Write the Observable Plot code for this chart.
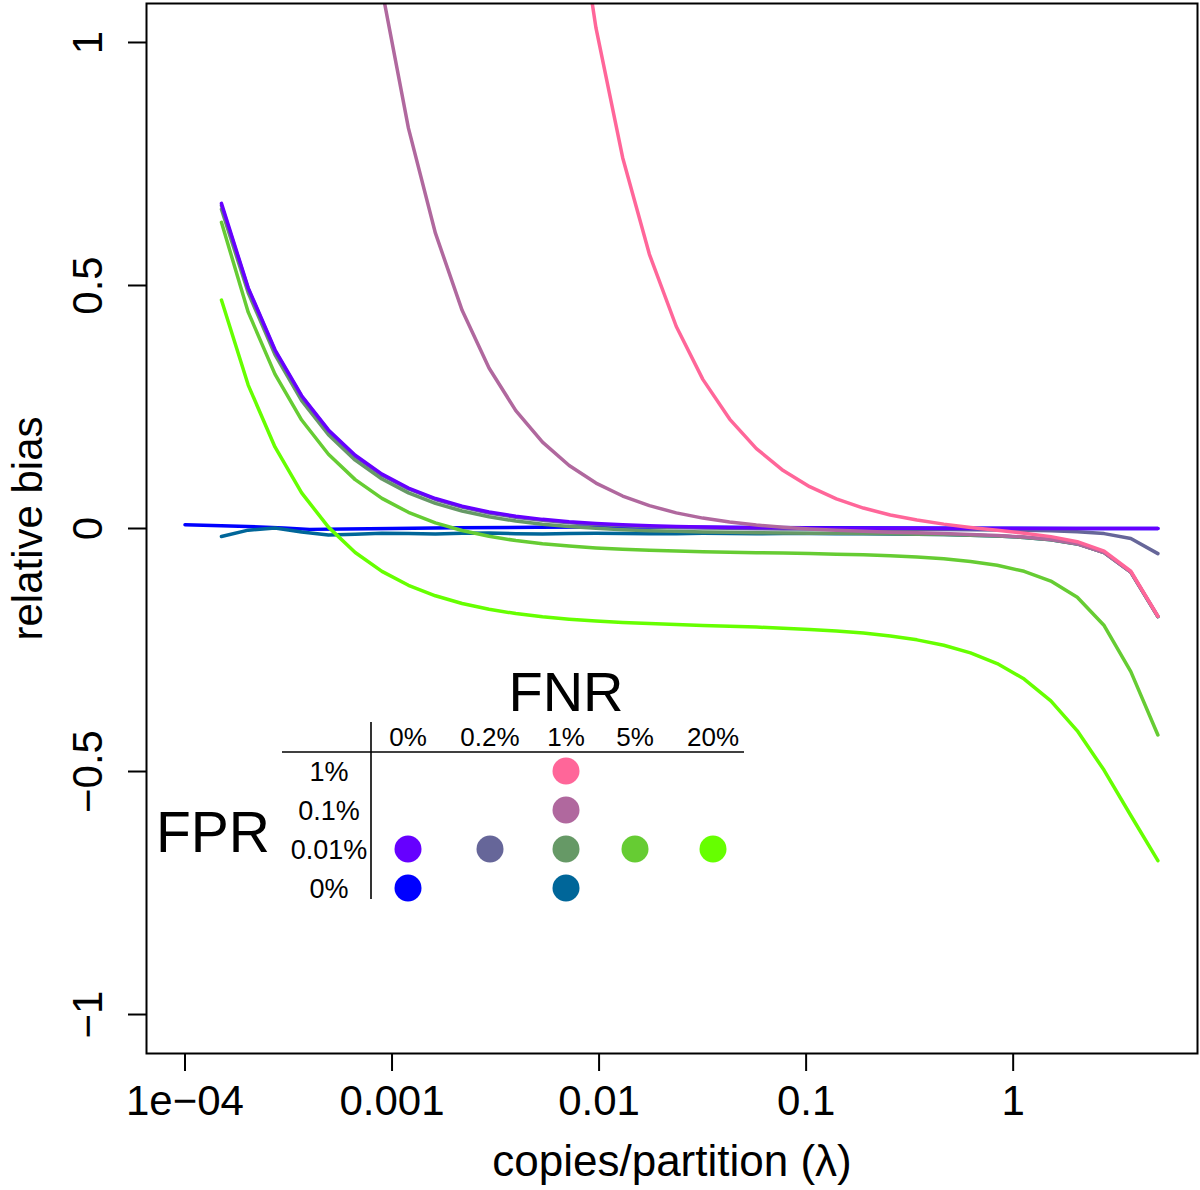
<!DOCTYPE html>
<html>
<head>
<meta charset="utf-8">
<script src="https://cdn.jsdelivr.net/npm/d3@7"></script>
<script src="https://cdn.jsdelivr.net/npm/@observablehq/plot@0.6"></script>
<style>
  html, body { margin: 0; padding: 0; background: #fff; }
  svg { display: block; }
</style>
</head>
<body>
<div id="chart"></div>
<script>
// copies/partition (lambda) grid shared by most series
const lambda = [0.00015, 0.000202, 0.000272, 0.000366, 0.000493, 0.000664, 0.000894, 0.0012, 0.00162, 0.00218,
  0.00294, 0.00396, 0.00533, 0.00717, 0.00966, 0.013, 0.0175, 0.0236, 0.0317, 0.0427,
  0.0575, 0.0775, 0.104, 0.14, 0.189, 0.255, 0.343, 0.462, 0.622, 0.837,
  1.13, 1.52, 2.04, 2.75, 3.7, 5];

// FPR 1%, FNR 1%
const biasFpr1Fnr1 = [66.99, 49.74, 36.94, 27.45, 20.38, 15.13, 11.23, 8.365, 6.194, 4.600,
  3.408, 2.528, 1.875, 1.392, 1.030, 0.7629, 0.5641, 0.4156, 0.3068, 0.2251,
  0.1644, 0.1192, 0.0860, 0.0610, 0.0421, 0.0279, 0.0173, 0.0090, 0.0022, -0.0037,
  -0.0096, -0.0167, -0.0271, -0.0465, -0.0880, -0.1804];
// FPR 0.1%, FNR 1%
const biasFpr01Fnr1 = [6.660, 4.943, 3.668, 2.724, 2.019, 1.497, 1.109, 0.8237, 0.6076, 0.4489,
  0.3303, 0.2426, 0.1777, 0.1295, 0.0935, 0.0668, 0.0470, 0.0322, 0.0214, 0.0132,
  0.0071, 0.0025, -0.0009, -0.0036, -0.0057, -0.0075, -0.0090, -0.0105, -0.0122, -0.0144,
  -0.0175, -0.0225, -0.0313, -0.0494, -0.0898, -0.1811];
// FPR 0.01%, FNR 0%
const biasFpr001Fnr0 = [0.6690, 0.4951, 0.3677, 0.2732, 0.2028, 0.1506, 0.1119, 0.0833, 0.0617, 0.0459,
  0.0340, 0.0253, 0.0188, 0.0139, 0.0104, 0.0077, 0.0057, 0.0042, 0.0032, 0.0023,
  0.0017, 0.0013, 0.0010, 0.0007, 0.0005, 0.0004, 0.0003, 0.0002, 0.0002, 0.0001,
  0.0001, 0.0001, 0.0000, 0.0000, 0.0000, 0.0000];
// FPR 0.01%, FNR 0.2%
const biasFpr001Fnr02 = [0.6647, 0.4931, 0.3657, 0.2712, 0.2008, 0.1486, 0.1099, 0.0813, 0.0597, 0.0439,
  0.0320, 0.0233, 0.0168, 0.0119, 0.0084, 0.0057, 0.0037, 0.0022, 0.0012, 0.0003,
  -0.0004, -0.0008, -0.0011, -0.0014, -0.0017, -0.0019, -0.0020, -0.0023, -0.0026, -0.0030,
  -0.0036, -0.0046, -0.0065, -0.0105, -0.0205, -0.0517];
// FPR 0.01%, FNR 1%
const biasFpr001Fnr1 = [0.6567, 0.4851, 0.3577, 0.2632, 0.1928, 0.1406, 0.1019, 0.0733, 0.0517, 0.0359,
  0.0240, 0.0153, 0.0088, 0.0039, 0.0003, -0.0024, -0.0044, -0.0059, -0.0070, -0.0079,
  -0.0086, -0.0091, -0.0096, -0.0100, -0.0105, -0.0110, -0.0116, -0.0125, -0.0137, -0.0154,
  -0.0183, -0.0230, -0.0317, -0.0497, -0.0898, -0.1812];
// FPR 0.01%, FNR 5%
const biasFpr001Fnr5 = [0.6300, 0.4451, 0.3177, 0.2232, 0.1528, 0.1006, 0.0619, 0.0333, 0.0117, -0.0042,
  -0.0161, -0.0249, -0.0314, -0.0362, -0.0399, -0.0426, -0.0447, -0.0463, -0.0476, -0.0487,
  -0.0497, -0.0506, -0.0516, -0.0528, -0.0542, -0.0562, -0.0588, -0.0624, -0.0677, -0.0757,
  -0.0881, -0.1081, -0.1414, -0.1997, -0.2944, -0.4249];
// FPR 0.01%, FNR 20%
const biasFpr001Fnr20 = [0.4700, 0.2951, 0.1677, 0.0732, 0.0028, -0.0494, -0.0882, -0.1168, -0.1384, -0.1543,
  -0.1662, -0.1751, -0.1817, -0.1866, -0.1904, -0.1934, -0.1957, -0.1977, -0.1994, -0.2011,
  -0.2029, -0.2050, -0.2076, -0.2108, -0.2152, -0.2211, -0.2291, -0.2402, -0.2558, -0.2778,
  -0.3097, -0.3546, -0.4163, -0.4975, -0.5905, -0.6834];
// FPR 0%, FNR 1%
const biasFpr0Fnr1 = [-0.0165, -0.0034, 0.0010, -0.0074, -0.0132, -0.0116, -0.0098, -0.0105, -0.0112, -0.0100,
  -0.0095, -0.0108, -0.0112, -0.0104, -0.0098, -0.0103, -0.0110, -0.0106, -0.0100, -0.0104,
  -0.0108, -0.0102, -0.0105, -0.0108, -0.0110, -0.0112, -0.0117, -0.0125, -0.0137, -0.0154,
  -0.0183, -0.0230, -0.0317, -0.0497, -0.0898, -0.1812];
// FPR 0%, FNR 0% (own grid, starts at 1e-4)
const lambdaFpr0Fnr0 = [0.0001, 0.00015, 0.0002, 0.0003, 0.0004, 0.0006, 0.001, 0.002, 0.005, 0.01,
  0.03, 0.1, 0.3, 1, 2, 5];
const biasFpr0Fnr0 = [0.0076, 0.0058, 0.0042, 0.0012, -0.0018, -0.0010, 0.0002, 0.0014, 0.0024, 0.0030,
  0.0026, 0.0016, 0.0008, 0.0004, 0.0002, 0.0000];

const xTicks = [1e-4, 0.001, 0.01, 0.1, 1];
const xTickLabels = ["1e\u221204", "0.001", "0.01", "0.1", "1"];
const yTicks = [-1, -0.5, 0, 0.5, 1];
const yTickLabels = ["\u22121", "\u22120.5", "0", "0.5", "1"];

const fnrLevels = ["0%", "0.2%", "1%", "5%", "20%"];
const fprLevels = ["1%", "0.1%", "0.01%", "0%"];

// drawing order (bottom to top)
const series = [
  {fpr: "0%",    fnr: "0%",   color: "#0000FF", x: lambdaFpr0Fnr0, y: biasFpr0Fnr0},
  {fpr: "0%",    fnr: "1%",   color: "#006699", x: lambda, y: biasFpr0Fnr1},
  {fpr: "0.01%", fnr: "20%",  color: "#66FF00", x: lambda, y: biasFpr001Fnr20},
  {fpr: "0.01%", fnr: "5%",   color: "#66CC33", x: lambda, y: biasFpr001Fnr5},
  {fpr: "0.01%", fnr: "1%",   color: "#669966", x: lambda, y: biasFpr001Fnr1},
  {fpr: "0.01%", fnr: "0.2%", color: "#666699", x: lambda, y: biasFpr001Fnr02},
  {fpr: "0.01%", fnr: "0%",   color: "#6600FF", x: lambda, y: biasFpr001Fnr0},
  {fpr: "0.1%",  fnr: "1%",   color: "#B0689E", x: lambda, y: biasFpr01Fnr1},
  {fpr: "1%",    fnr: "1%",   color: "#FF6699", x: lambda, y: biasFpr1Fnr1}
];

const font = "'Liberation Sans', Arial, Helvetica, sans-serif";

const lineMarks = series.map(s =>
  Plot.line(s.x.map((l, i) => ({l, b: s.y[i]})), {
    x: "l", y: "b", stroke: s.color, strokeWidth: 3.5, clip: true,
    strokeLinejoin: "round", strokeLinecap: "round"
  })
);

const chart = Plot.plot({
  width: 1200,
  height: 1190,
  marginLeft: 146,
  marginRight: 3,
  marginTop: 3,
  marginBottom: 137,
  style: {fontFamily: font, background: "#fff", color: "#000", overflow: "visible"},
  x: {type: "log", domain: [6.518e-5, 7.767]},
  y: {domain: [-1.0802, 1.0802]},
  marks: [
    ...lineMarks,
    Plot.frame({stroke: "#000", strokeWidth: 2}),
    Plot.axisX({
      ticks: xTicks,
      tickFormat: d => xTickLabels[xTicks.indexOf(d)],
      tickSize: 18, tickPadding: 14, fontSize: 42, strokeWidth: 2, label: null
    }),
    Plot.axisY({
      ticks: yTicks, tickFormat: () => "", tickSize: 18, strokeWidth: 2, label: null
    }),
    Plot.text(yTicks, {
      y: d => d, text: d => yTickLabels[yTicks.indexOf(d)],
      frameAnchor: "left", dx: -58, rotate: -90, fontSize: 42,
      textAnchor: "middle", lineAnchor: "middle", fill: "#000"
    }),
    Plot.text(["relative bias"], {
      frameAnchor: "left", dx: -118, rotate: -90, fontSize: 42,
      textAnchor: "middle", lineAnchor: "middle", fill: "#000"
    }),
    Plot.text(["copies/partition (\u03BB)"], {
      frameAnchor: "bottom", dy: 108, fontSize: 44,
      textAnchor: "middle", lineAnchor: "middle", fill: "#000"
    })
  ]
});

document.getElementById("chart").appendChild(chart);

// ---- inset legend table (FNR columns x FPR rows) ----
const svg = d3.select(chart);
const colX = {"0%": 408, "0.2%": 490, "1%": 566, "5%": 635, "20%": 713};
const rowY = {"1%": 771, "0.1%": 810, "0.01%": 849, "0%": 888};
const g = svg.append("g").attr("font-family", font).attr("fill", "#000");

g.append("text").attr("x", 566).attr("y", 711).attr("text-anchor", "middle")
  .attr("font-size", 56).text("FNR");
g.append("text").attr("x", 213).attr("y", 852).attr("text-anchor", "middle")
  .attr("font-size", 57).text("FPR");

fnrLevels.forEach(f => {
  g.append("text").attr("x", colX[f]).attr("y", 746).attr("text-anchor", "middle")
    .attr("font-size", 26).text(f);
});
fprLevels.forEach(f => {
  g.append("text").attr("x", 329).attr("y", rowY[f] + 10).attr("text-anchor", "middle")
    .attr("font-size", 27).text(f);
});

g.append("line").attr("x1", 282).attr("x2", 744).attr("y1", 752).attr("y2", 752)
  .attr("stroke", "#000").attr("stroke-width", 1.6);
g.append("line").attr("x1", 371).attr("x2", 371).attr("y1", 722).attr("y2", 899)
  .attr("stroke", "#000").attr("stroke-width", 1.6);

series.forEach(s => {
  g.append("circle").attr("cx", colX[s.fnr]).attr("cy", rowY[s.fpr]).attr("r", 13.5)
    .attr("fill", s.color);
});
</script>
</body>
</html>
